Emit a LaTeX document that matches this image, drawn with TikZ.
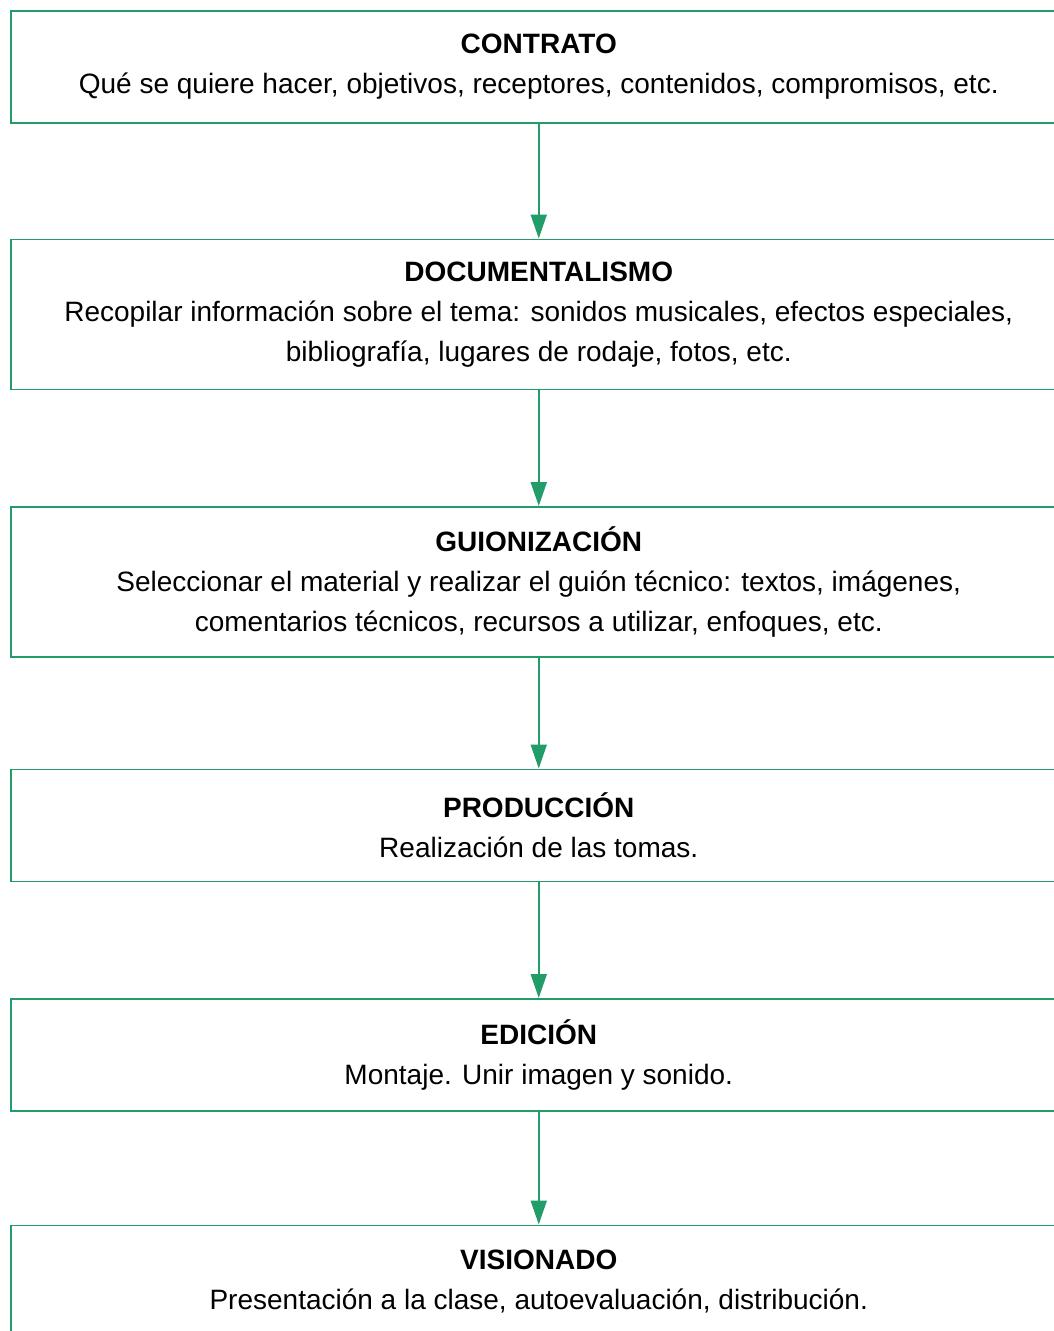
\documentclass[tikz,border=0pt]{standalone}
\usepackage{fontspec}
\setmainfont{Liberation Sans}
\usetikzlibrary{arrows.meta, positioning}
\definecolor{verdeflujo}{RGB}{34,156,104}

\begin{document}
\begin{tikzpicture}[
    node distance=116pt,
    fase/.style={
        rectangle,
        draw=verdeflujo, line width=1.5pt, fill=white,
        minimum width=1056pt, minimum height=112pt,
        font=\fontsize{28}{40}\selectfont,
        align=center, inner sep=0pt
    },
    alta/.style={minimum height=150pt},
    arr/.style={-{Triangle[length=24pt, width=16pt]}, line width=2pt, color=verdeflujo}
]
\useasboundingbox (0,0) rectangle (1053pt,-1331pt);

\node[fase, anchor=north west] (con) at (10pt,-10pt)
    {\textbf{CONTRATO}\\Qué se quiere hacer, objetivos, receptores, contenidos, compromisos, etc.};
\node[fase, alta, below=115pt of con] (doc)
    {\textbf{DOCUMENTALISMO}\\Recopilar información sobre el tema: sonidos musicales, efectos especiales,\\bibliografía, lugares de rodaje, fotos, etc.};
\node[fase, alta, below=116pt of doc] (gui)
    {\textbf{GUIONIZACIÓN}\\Seleccionar el material y realizar el guión técnico: textos, imágenes,\\comentarios técnicos, recursos a utilizar, enfoques, etc.};
\node[fase, below=111pt of gui] (pro)
    {\textbf{PRODUCCIÓN}\\Realización de las tomas.};
\node[fase, below=116pt of pro] (edi)
    {\textbf{EDICIÓN}\\Montaje. Unir imagen y sonido.};
\node[fase, below=113pt of edi] (vis)
    {\textbf{VISIONADO}\\Presentación a la clase, autoevaluación, distribución.};

\draw[arr] (con) -- (doc);
\draw[arr] (doc) -- (gui);
\draw[arr] (gui) -- (pro);
\draw[arr] (pro) -- (edi);
\draw[arr] (edi) -- (vis);

\end{tikzpicture}
\end{document}
